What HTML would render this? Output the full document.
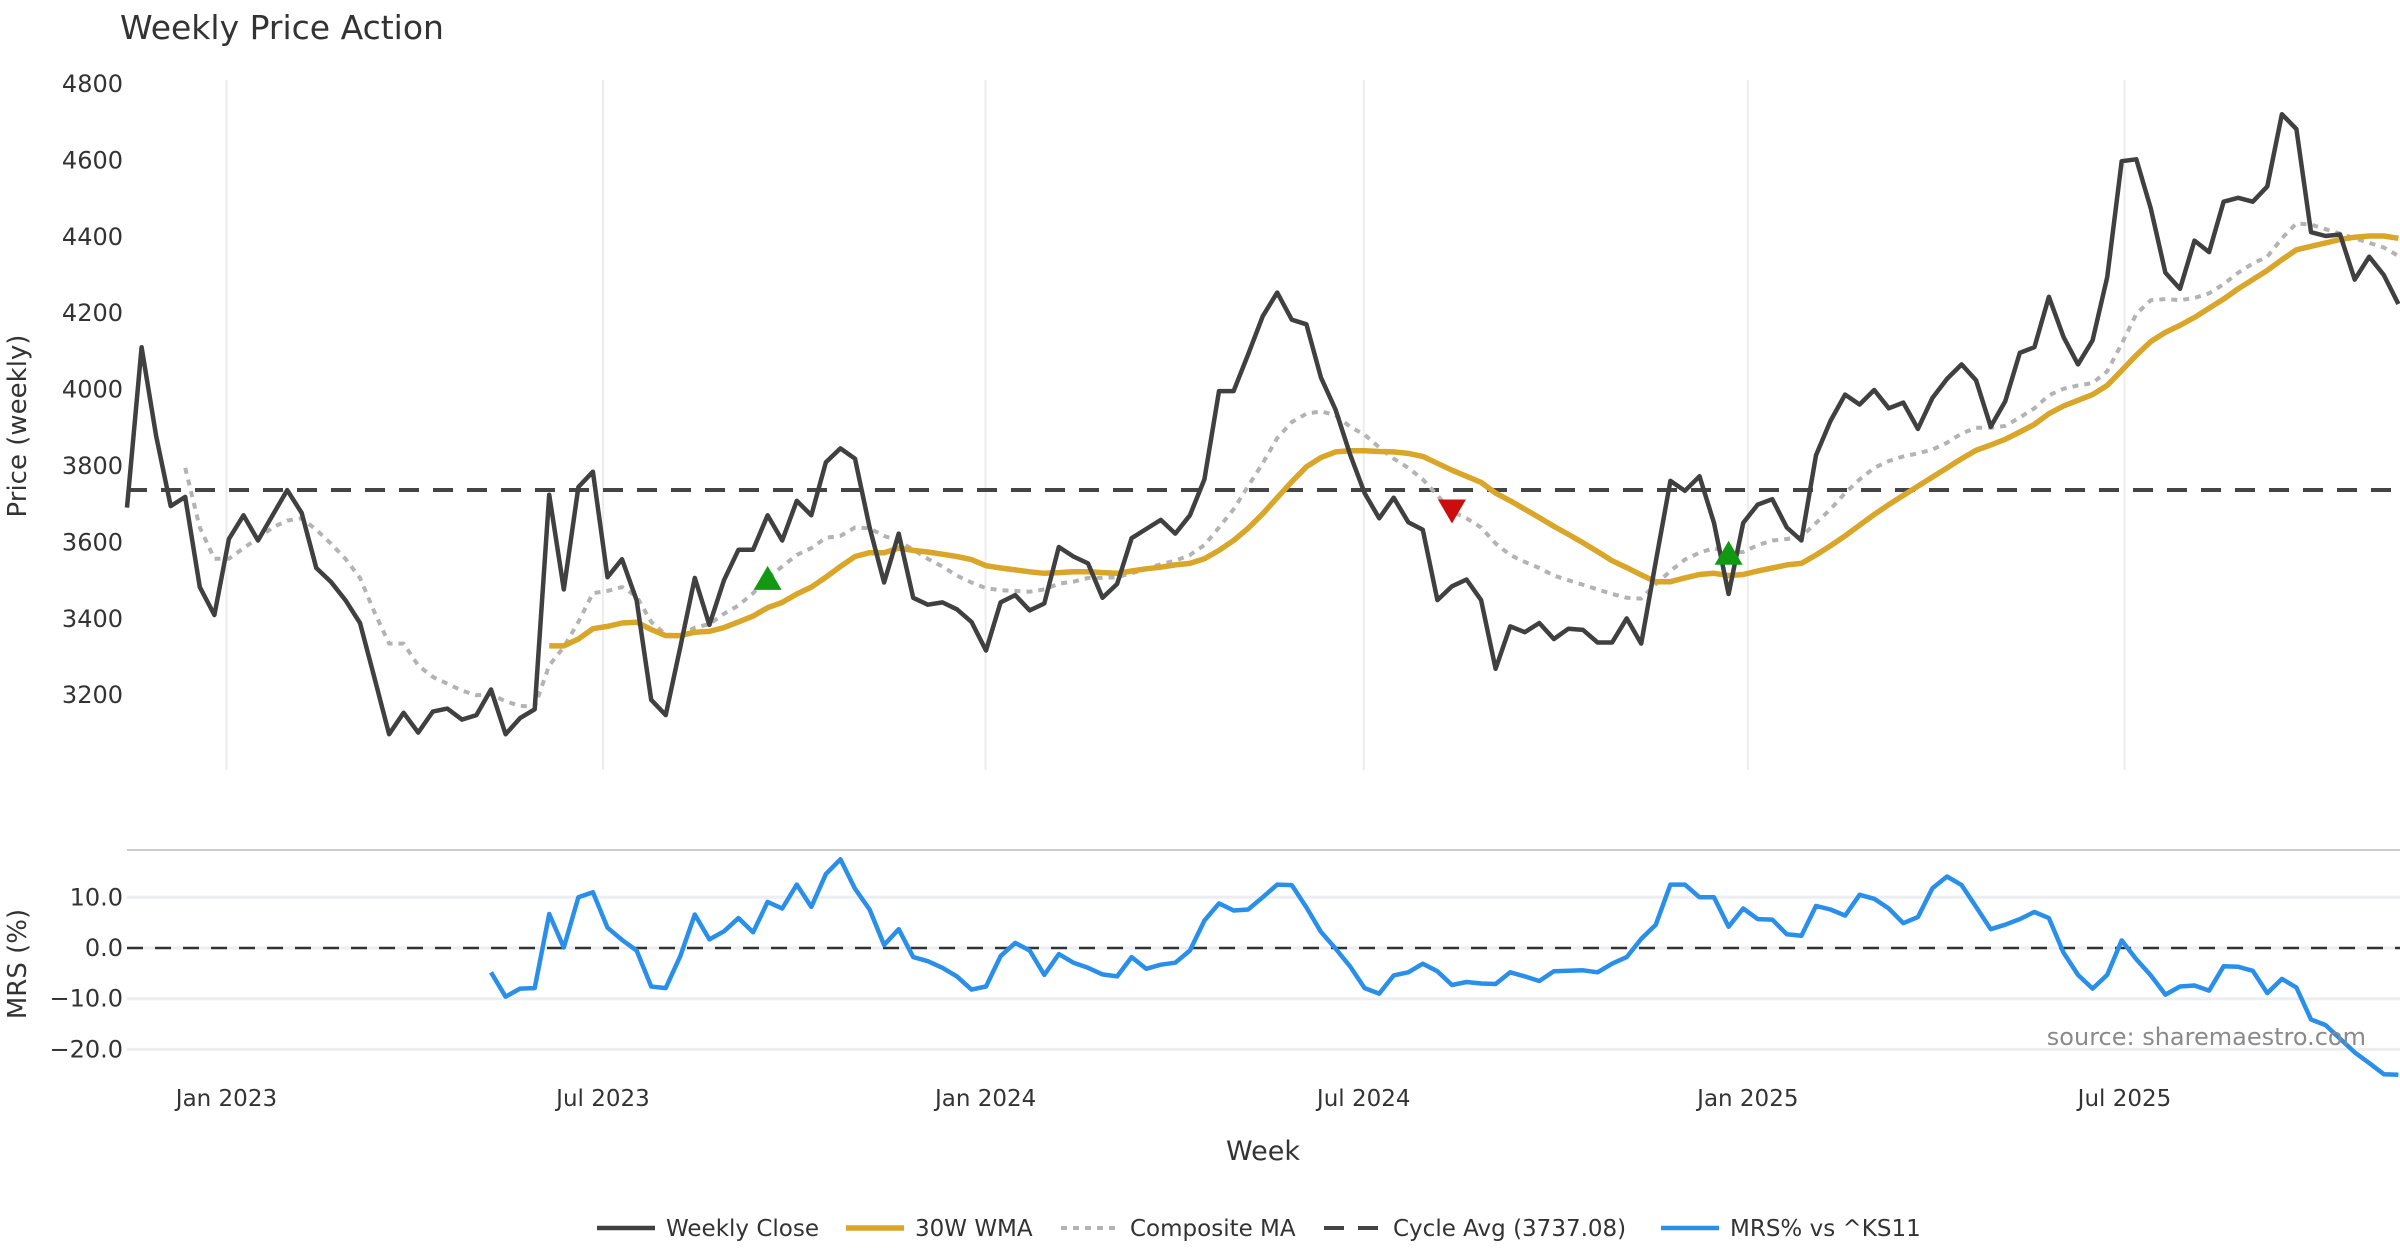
<!DOCTYPE html>
<html><head><meta charset="utf-8"><style>
html,body{margin:0;padding:0;background:#fff;}
svg{display:block;font-family:"DejaVu Sans","Liberation Sans",sans-serif;}
</style></head><body>
<svg id="chart" width="2400" height="1260" viewBox="0 0 2400 1260" xmlns="http://www.w3.org/2000/svg">
<defs><clipPath id="clip"><rect x="120" y="60" width="2280" height="1060"/></clipPath></defs>
<text x="120" y="39" font-size="33" fill="#333">Weekly Price Action</text>
<g id="grid"></g>
<g id="axes"></g>
<g id="series" clip-path="url(#clip)"></g>
<text transform="translate(26,426) rotate(-90)" text-anchor="middle" font-size="26" fill="#333">Price (weekly)</text>
<text transform="translate(26,964) rotate(-90)" text-anchor="middle" font-size="26" fill="#333">MRS (%)</text>
<text x="1263" y="1160" text-anchor="middle" font-size="27" fill="#333">Week</text>
<text x="2366" y="1045" text-anchor="end" font-size="24" fill="#8a8a8a">source: sharemaestro.com</text>
<g id="legend"></g>
</svg>
<script>
const closeVals=[3691,4111,3879,3695,3719,3483,3410,3609,3671,3605,3671,3737,3677,3533,3497,3449,3389,3245,3098,3154,3102,3157,3165,3136,3148,3215,3098,3140,3163,3725,3477,3745,3785,3509,3556,3449,3188,3148,3326,3507,3384,3501,3581,3581,3671,3605,3709,3671,3810,3846,3819,3639,3495,3623,
3455,3437,3443,3425,3392,3317,3443,3462,3422,3440,3588,3563,3545,3455,3491,3611,3635,3659,3623,3671,3765,3996,3996,4092,4192,4254,4183,4171,4032,3948,3831,3729,3663,3717,3653,3633,3449,3485,3503,3449,3269,3380,3365,3389,3347,3374,3371,3338,3338,3401,3335,
3550,
3761,3735,3773,3651,3465,3651,3699,3713,3639,3605,3828,3918,3987,3961,3999,3951,3966,3897,3978,4028,4066,4024,3903,3969,4096,4111,4243,4138,4066,4129,4294,4598,4603,4474,4306,4264,4390,4360,4492,4502,4492,4532,4721,4682,4412,4402,4406,4288,4348,4300,4224];
const wmaStart=29;
const wmaVals=[3329,3329,3347,3374,3380,3389,3391,3372,3356,3356,3365,3367,3377,3392,3407,3429,3443,3465,3483,3509,3537,3563,3573,3573,3585,
3579,3575,3569,3563,3555,3539,3533,3528,3523,3519,3521,3523,3523,3521,3519,3525,3531,3535,3541,3545,3557,3579,3605,3637,3675,3717,3759,3798,3822,3837,3840,3840,3838,3837,3833,3825,3807,3789,3773,3757,3729,3709,3687,3665,3642,3621,3599,3576,3552,3534,3515,3497,
3497,3507,3516,3519,3513,3516,3525,3533,3541,3545,3567,3591,3617,3645,3673,3699,3723,3747,3771,3795,3819,3841,3855,3870,3889,3909,3937,3957,3972,3987,4011,4050,4090,4126,4150,4168,4189,4213,4237,4264,4288,4312,4340,4366,4375,4384,4393,4399,4402,4402,4396];
const compStart=4;
const compVals=[3795,3639,3557,3557,3585,3611,3639,3657,3663,3633,3597,3557,3507,3417,3335,3335,3278,3248,3230,3212,3200,3202,3184,3172,3170,3278,3326,3392,3467,3473,3483,3459,3392,3359,3356,3377,3386,3413,3435,3467,3507,3537,3567,3585,3612,3617,3639,3637,3617,3603,
3581,3557,3537,3513,3495,3480,3475,3473,3471,3477,3492,3497,3507,3507,3509,3519,3531,3543,3552,3567,3593,3639,3687,3747,3807,3873,3915,3937,3943,3933,3903,3882,3849,3819,3795,3765,3723,3681,3663,3639,3597,3567,3549,3533,3513,3501,3489,3477,3465,3455,3453,
3491,3525,3555,3573,3585,3573,3575,3593,3605,3609,3615,3651,3687,3729,3765,3795,3813,3825,3833,3843,3861,3885,3900,3900,3905,3927,3951,3985,4002,4011,4017,4048,4120,4198,4234,4237,4234,4240,4252,4276,4306,4330,4348,4396,4435,4432,4420,4408,4396,4384,4372,4350];
const mrsStart=25;
const mrsVals=[-4.8,-9.6,-8.0,-7.9,6.7,0.1,10.0,11.0,4.0,1.6,-0.5,-7.6,-7.9,-1.6,6.6,1.7,3.3,5.9,3.1,9.1,7.8,12.5,8.1,14.6,17.5,11.7,7.6,0.6,3.7,-1.8,-2.6,-3.9,-5.6,-8.2,-7.6,-1.6,1.0,-0.5,-5.3,-1.2,-2.9,-3.9,-5.2,-5.6,-1.8,-4.1,-3.3,-2.9,-0.5,5.4,8.8,7.4,7.6,10.0,12.5,12.4,8.0,3.2,-0.1,-3.6,-7.9,-9.0,-5.4,-4.8,
-3.1,-4.6,-7.3,-6.7,-7.0,-7.1,-4.8,-5.6,-6.5,-4.6,-4.5,-4.4,-4.8,-3.1,-1.8,1.8,4.6,12.5,12.5,10.0,10.0,4.2,7.8,5.7,5.6,2.7,2.4,8.3,7.6,6.4,10.5,9.7,7.8,4.9,6.1,11.8,14.1,12.4,8.1,3.7,4.6,5.7,7.1,5.9,-0.9,-5.3,-8.0,-5.3,1.5,-2.2,-5.4,-9.2,-7.6,-7.4,-8.4,-3.6,-3.7,-4.5,-8.9,-6.1,-7.8,-14.1,-15.2,-17.9,-20.6,-22.7,-24.9,-25.0];
const cycleAvg=3737.08;
const signalIdx=[44,91,110];
const signalType=['buy','sell','buy'];
const priceTicks=[4800,4600,4400,4200,4000,3800,3600,3400,3200];
const mrsTicks=[10,0,-10,-20];
const mrsTickLabels=['10.0','0.0','\u221210.0','\u221220.0'];
const xTickWeeks=[6.83,32.69,58.97,84.94,111.32,137.19];
const xTickLabels=['Jan 2023','Jul 2023','Jan 2024','Jul 2024','Jan 2025','Jul 2025'];

const NS='http://www.w3.org/2000/svg';
function xS(i){return 127+14.56*i;}
function yP(v){return 84+(4800-v)*0.382;}
function yM(v){return 948-v*5.07;}
function mk(tag,attrs,parent){const e=document.createElementNS(NS,tag);for(const k in attrs)e.setAttribute(k,attrs[k]);parent.appendChild(e);return e;}
const grid=document.getElementById('grid'),axes=document.getElementById('axes'),ser=document.getElementById('series'),leg=document.getElementById('legend');

xTickWeeks.forEach((w,k)=>{
  const l=mk('line',{x1:xS(w),x2:xS(w),y1:80,y2:770,stroke:'#ececec','stroke-width':2},grid);
  
  
  const t=mk('text',{x:xS(w),y:1106,'text-anchor':'middle','font-size':23,fill:'#333'},axes);
  t.textContent=xTickLabels[k];
  
  
});
priceTicks.forEach(v=>{
  const t=mk('text',{x:123,y:yP(v)+8,'text-anchor':'end','font-size':24,fill:'#333'},axes);
  t.textContent=v;
  
  
});
const sep=mk('line',{x1:127,x2:2400,y1:850,y2:850,stroke:'#cccccc','stroke-width':2},grid);


mrsTicks.forEach((v,k)=>{
  const g=mk('line',{x1:127,x2:2400,y1:yM(v),y2:yM(v),stroke:'#eceef2','stroke-width':3},grid);
  
  
  const t=mk('text',{x:123,y:yM(v)+8,'text-anchor':'end','font-size':24,fill:'#333'},axes);
  t.textContent=mrsTickLabels[k];
  
  
});
const z=mk('line',{x1:127,x2:2400,y1:yM(0),y2:yM(0),stroke:'#333','stroke-width':2.5,'stroke-dasharray':'16 12'},grid);



function path(vals,start,yf,attrs,name){
  let d='';vals.forEach((v,k)=>{d+=(k?'L':'M')+xS(start+k).toFixed(1)+','+yf(v).toFixed(1);});
  const p=mk('path',Object.assign({d:d,fill:'none','stroke-linejoin':'round'},attrs),ser);
  
  
}
const cy=mk('line',{x1:127,x2:2400,y1:yP(cycleAvg),y2:yP(cycleAvg),stroke:'#444','stroke-width':4,'stroke-dasharray':'20 14'},ser);


path(compVals,compStart,yP,{stroke:'#b3b3b3','stroke-width':4,'stroke-dasharray':'6 6'},'composite-ma-line');
path(wmaVals,wmaStart,yP,{stroke:'#d9a62a','stroke-width':5.5},'wma-30w-line');
path(closeVals,0,yP,{stroke:'#404040','stroke-width':4.5},'weekly-close-line');
path(mrsVals,mrsStart,yM,{stroke:'#2a8fe8','stroke-width':4.5},'mrs-line');
signalIdx.forEach((i,k)=>{
  const x=xS(i),y=yP(compVals[i-compStart]);
  let pts;
  if(signalType[k]==='buy') pts=[[x-14,y+12],[x+14,y+12],[x,y-12]];
  else pts=[[x-14,y-12],[x+14,y-12],[x,y+12]];
  const p=mk('polygon',{points:pts.map(q=>q.join(',')).join(' '),fill:signalType[k]==='buy'?'#119a11':'#cc0d0d'},ser);
  
  
});

const legendItems=[
 {x:597,t:'Weekly Close',s:{stroke:'#404040','stroke-width':4.5},n:'legend-weekly-close'},
 {x:846,t:'30W WMA',s:{stroke:'#d9a62a','stroke-width':5.5},n:'legend-wma'},
 {x:1061,t:'Composite MA',s:{stroke:'#b3b3b3','stroke-width':4,'stroke-dasharray':'6 6'},n:'legend-composite-ma'},
 {x:1324,t:'Cycle Avg (3737.08)',s:{stroke:'#444','stroke-width':4,'stroke-dasharray':'20 14'},n:'legend-cycle-avg'},
 {x:1661,t:'MRS% vs ^KS11',s:{stroke:'#2a8fe8','stroke-width':4.5},n:'legend-mrs'}];
legendItems.forEach(it=>{
  const g=mk('g',{},leg);
  
  
  mk('line',Object.assign({x1:it.x,x2:it.x+58,y1:1228,y2:1228},it.s),g);
  const t=mk('text',{x:it.x+69,y:1236,'font-size':23,fill:'#333'},g);
  t.textContent=it.t;
});
</script>
</body></html>
